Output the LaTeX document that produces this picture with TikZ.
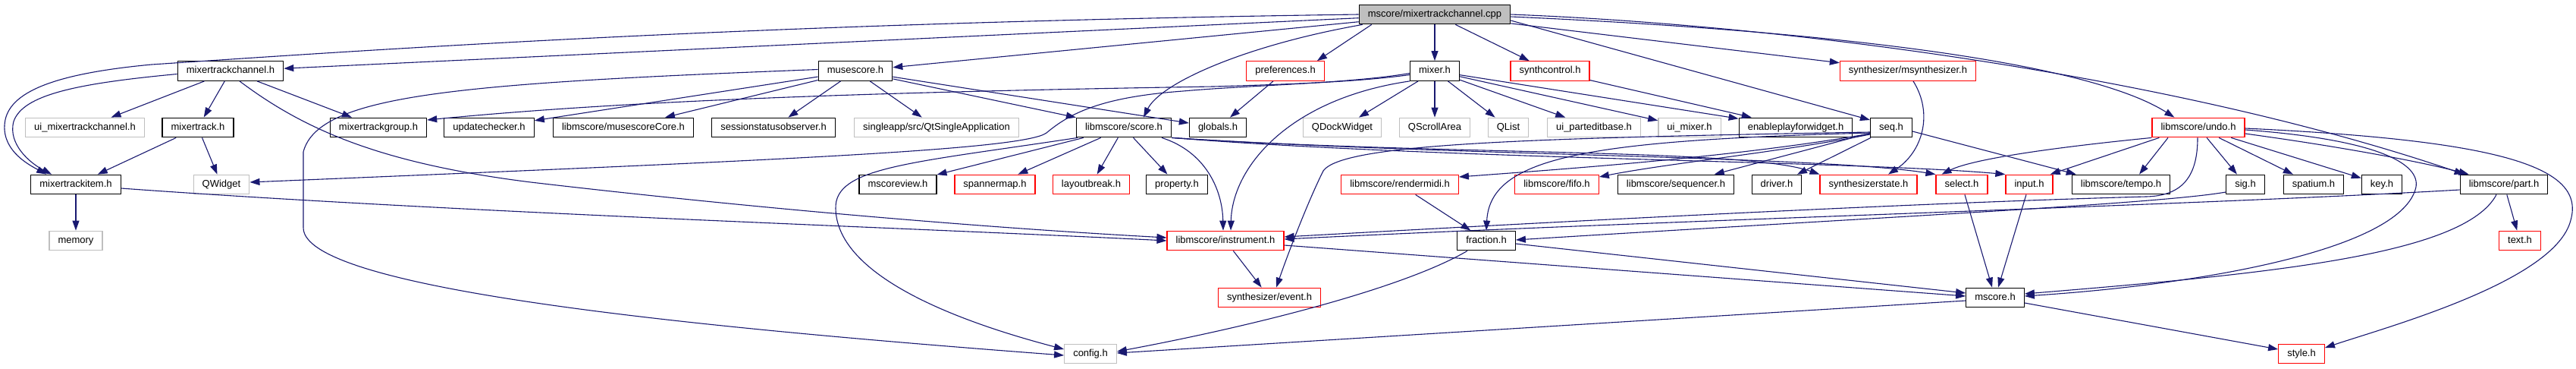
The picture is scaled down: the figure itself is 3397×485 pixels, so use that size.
\documentclass[tikz,border=0pt]{standalone}
\usepackage{fontspec}
\setmainfont{Liberation Sans}
\usetikzlibrary{arrows.meta}
\usetikzlibrary{calc,positioning}
\definecolor{edgeblue}{RGB}{25,25,112}
\definecolor{sysgrey}{RGB}{191,191,191}

\begin{document}
\begin{tikzpicture}[x=1pt,y=-1pt,
    hdr/.style={draw=black,line width=1.3pt,fill=white,minimum height=25.5pt,inner xsep=11.5pt,inner ysep=0pt,text height=9.4pt,text depth=2.7pt,font=\fontsize{13}{15}\selectfont},
    sys/.style={hdr,draw=sysgrey},
    cut/.style={hdr,draw=red},
    edge/.style={draw=edgeblue,line width=1.1pt,-{Triangle[length=13pt,width=9pt]}}]
        \useasboundingbox (0,0) rectangle (3397,485);

        \node[hdr,fill=sysgrey] (root) at (1892,19) {mscore/mixertrackchannel.cpp};

        \node[hdr] (mtchan) at (304,93.5) {mixertrackchannel.h};
        \node[hdr] (musescore) at (1128,93.5) {musescore.h};
        \node[cut] (prefs) at (1695,93.5) {preferences.h};
        \node[hdr] (mixer) at (1892,93.5) {mixer.h};
        \node[cut] (synthctl) at (2044,93.5) {synthcontrol.h};
        \node[cut] (msynth) at (2516,93.5) {synthesizer/msynthesizer.h};

        \node[sys] (uimtchan) at (112,168) {ui\_mixertrackchannel.h};
        \node[hdr] (mtrack) at (261,168) {mixertrack.h};
        \node[hdr] (mtgroup) at (499,168) {mixertrackgroup.h};
        \node[hdr] (updchk) at (645,168) {updatechecker.h};
        \node[hdr] (mscorecore) at (822,168) {libmscore/musescoreCore.h};
        \node[hdr] (sessobs) at (1020,168) {sessionstatusobserver.h};
        \node[sys] (qtsingle) at (1235,168) {singleapp/src/QtSingleApplication};
        \node[hdr] (score) at (1482,168) {libmscore/score.h};
        \node[hdr] (globals) at (1606,168) {globals.h};
        \node[sys] (qdock) at (1770,168) {QDockWidget};
        \node[sys] (qscroll) at (1892,168) {QScrollArea};
        \node[sys] (qlist) at (1989,168) {QList};
        \node[sys] (uiparted) at (2102,168) {ui\_parteditbase.h};
        \node[sys] (uimixer) at (2228,168) {ui\_mixer.h};
        \node[hdr] (enplay) at (2368,168) {enableplayforwidget.h};
        \node[hdr] (seq) at (2494,168) {seq.h};
        \node[cut] (undo) at (2899,168) {libmscore/undo.h};

        \node[hdr] (mtitem) at (100,243) {mixertrackitem.h};
        \node[sys] (qwidget) at (292,243) {QWidget};
        \node[hdr] (mview) at (1184,243) {mscoreview.h};
        \node[cut] (spanmap) at (1312,243) {spannermap.h};
        \node[cut] (lbreak) at (1439,243) {layoutbreak.h};
        \node[hdr] (prop) at (1552,243) {property.h};
        \node[cut] (rmidi) at (1846,243) {libmscore/rendermidi.h};
        \node[cut] (fifo) at (2053,243) {libmscore/fifo.h};
        \node[hdr] (sequencer) at (2210,243) {libmscore/sequencer.h};
        \node[hdr] (driver) at (2343,243) {driver.h};
        \node[cut] (synstate) at (2464,243) {synthesizerstate.h};
        \node[cut] (select) at (2587,243) {select.h};
        \node[cut] (input) at (2676,243) {input.h};
        \node[hdr] (tempo) at (2797,243) {libmscore/tempo.h};
        \node[hdr] (sig) at (2961,243) {sig.h};
        \node[hdr] (spatium) at (3051,243) {spatium.h};
        \node[hdr] (key) at (3141,243) {key.h};
        \node[hdr] (part) at (3302,243) {libmscore/part.h};

        \node[sys] (memory) at (100,317) {memory};
        \node[cut] (instr) at (1616,317) {libmscore/instrument.h};
        \node[hdr] (fraction) at (1960,317) {fraction.h};
        \node[cut] (text) at (3323,317) {text.h};

        \node[cut] (event) at (1674,392) {synthesizer/event.h};
        \node[hdr] (mscore) at (2631,392) {mscore.h};

        \node[sys] (config) at (1438,466) {config.h};
        \node[cut] (style) at (3035,466) {style.h};

        \draw[edge] (root) -- (mtchan);
        \draw[edge] (root) -- (musescore);
        \draw[edge] (root.west) .. controls (1000,30) and (500,65) .. (200,85) .. controls (60,98) and (8,125) .. (6,165) .. controls (4,200) and (40,218) .. ([xshift=21pt]mtitem.north west);
        \draw[edge] ([xshift=17pt]root.south west) -- ([xshift=-10pt]prefs.north east);
        \draw[edge] (root) -- (mixer);
        \draw[edge] (root) -- (synthctl);
        \draw[edge] (root) -- (msynth);
        \draw[edge] ([yshift=-8pt]root.east) -- ([yshift=10pt]seq.west);
        \draw[edge] ([yshift=-3pt]root.east) .. controls (2400,40) and (2750,80) .. ([xshift=30pt]undo.north west);
        \draw[edge] (root.east) .. controls (2400,35) and (2900,110) .. ([xshift=6pt]part.north west);
        \draw[edge] ([xshift=5pt]root.south west) .. controls (1640,60) and (1530,110) .. ([xshift=26pt]score.north);

        \draw[edge] (mtchan) -- (uimtchan);
        \draw[edge] (mtchan) -- (mtrack);
        \draw[edge] (mtchan) -- (mtgroup);
        \draw[edge] ([yshift=-4pt]mtchan.west) .. controls (100,110) and (30,125) .. (18,160) .. controls (10,190) and (40,215) .. ([xshift=28pt]mtitem.north west);
        \draw[edge] ([xshift=12pt]mtchan.south) .. controls (400,170) and (500,215) .. (700,240) .. controls (1000,275) and (1300,300) .. ([yshift=4pt]instr.west);

        \draw[edge] (musescore) -- (updchk);
        \draw[edge] (musescore) -- (mscorecore);
        \draw[edge] (musescore) -- (sessobs);
        \draw[edge] (musescore) -- (qtsingle);
        \draw[edge] (musescore) -- (score);
        \draw[edge] (musescore) -- (globals);
        \draw[edge] ([yshift=2pt]musescore.west) .. controls (600,110) and (420,125) .. (400,200) -- (400,300) .. controls (400,380) and (900,430) .. ([yshift=-2pt]config.west);

        \draw[edge] (prefs) -- (globals);

        \draw[edge] (mixer) -- (qdock);
        \draw[edge] (mixer) -- (qscroll);
        \draw[edge] (mixer) -- (qlist);
        \draw[edge] (mixer) -- (uiparted);
        \draw[edge] (mixer) -- (uimixer);
        \draw[edge] (mixer) -- (enplay);
        \draw[edge] ([yshift=-5pt]mixer.west) .. controls (1790,108) and (1700,111) .. (1600,114) .. controls (1100,122) and (800,135) .. ([yshift=10pt]mtgroup.east);
        \draw[edge] ([yshift=-3pt]mixer.west) .. controls (1780,110) and (1650,112) .. (1560,120) .. controls (1450,128) and (1410,150) .. (1380,175) .. controls (1350,198) and (1000,212) .. ([yshift=3pt]qwidget.east);
        \draw[edge] (mixer.south west) .. controls (1700,130) and (1625,220) .. ([xshift=7pt]instr.north);

        \draw[edge] (synthctl) -- (enplay);
        \draw[edge] ([xshift=7pt]msynth.south) .. controls (2550,150) and (2535,200) .. ([xshift=26pt]synstate.north);

        \draw[edge] (mtrack) -- (mtitem);
        \draw[edge] (mtrack) -- (qwidget);
        \draw[edge] (mtitem) -- (memory);
        \draw[edge] ([yshift=-5pt]mtitem.east) .. controls (600,280) and (1200,300) .. (instr.west);

        \draw[edge] (score) -- (mview);
        \draw[edge] (score) -- (spanmap);
        \draw[edge] (score) -- (lbreak);
        \draw[edge] (score) -- (prop);
        \draw[edge] ([xshift=50pt]score.south) .. controls (1590,200) and (1612,250) .. ([xshift=-3pt]instr.north);
        \draw[edge] ([xshift=2pt]score.south west) .. controls (1200,215) and (1100,220) .. (1102,275) .. controls (1104,360) and (1250,420) .. ([yshift=6pt]config.west);
        \draw[edge] (score.south east) .. controls (1900,205) and (2300,195) .. (synstate.north west);
        \draw[edge] (score.south east) .. controls (1900,205) and (2400,205) .. (select.north west);
        \draw[edge] (score.south east) .. controls (1900,210) and (2450,212) .. (input.north west);

        \draw[edge] ([yshift=-8pt]seq.west) .. controls (2300,205) and (2100,220) .. ([yshift=10pt]rmidi.east);
        \draw[edge] ([yshift=-9pt]seq.west) .. controls (2350,200) and (2200,215) .. ([yshift=10pt]fifo.east);
        \draw[edge] (seq) -- (sequencer);
        \draw[edge] (seq) -- (driver);
        \draw[edge] ([yshift=-7pt]seq.west) .. controls (2100,185) and (1965,205) .. (fraction.north);
        \draw[edge] ([yshift=-6pt]seq.west) .. controls (2000,182) and (1770,190) .. (1745,225) .. controls (1725,265) and (1700,330) .. ([xshift=9pt]event.north);
        \draw[edge] ([yshift=-5pt]seq.east) -- ([xshift=6pt]tempo.north west);

        \draw[edge] ([xshift=-40pt]undo.south) -- ([xshift=24pt]tempo.north);
        \draw[edge] (undo) -- (sig);
        \draw[edge] (undo) -- (spatium);
        \draw[edge] (undo) -- (key);
        \draw[edge] ([yshift=-8pt]undo.east) .. controls (3100,195) and (3200,215) .. ([xshift=12pt]part.north west);
        \draw[edge] ([yshift=-3pt]undo.east) .. controls (3150,185) and (3195,220) .. (3185,250) .. controls (3160,330) and (2900,375) .. ([yshift=2pt]mscore.east);
        \draw[edge] ([yshift=-1pt]undo.east) .. controls (3300,185) and (3410,220) .. (3390,290) .. controls (3370,370) and (3150,430) .. ([yshift=8pt]style.east);
        \draw[edge] ([xshift=-1pt]undo.south) .. controls (2898,230) and (2880,258) .. (2830,259) .. controls (2500,268) and (2000,295) .. ([yshift=5pt]instr.east);
        \draw[edge] (undo.south west) .. controls (2700,195) and (2600,210) .. ([xshift=8pt]select.north west);
        \draw[edge] ([xshift=10pt]undo.south west) -- ([xshift=-4pt]input.north east);

        \draw[edge] (rmidi) -- (fraction);
        \draw[edge] ([yshift=-10pt]sig.west) .. controls (2850,268) and (2500,285) .. ([yshift=1pt]fraction.east);
        \draw[edge] (part) -- (text);
        \draw[edge] ([xshift=-10pt]part.south) .. controls (3250,335) and (3000,360) .. ([yshift=5pt]mscore.east);
        \draw[edge] ([yshift=-7pt]part.west) .. controls (2900,270) and (2200,290) .. ([yshift=2pt]instr.east);

        \draw[edge] (instr) -- (event);
        \draw[edge] ([yshift=-6pt]instr.east) -- ([yshift=2pt]mscore.west);
        \draw[edge] ([yshift=-4pt]fraction.east) -- ([yshift=6pt]mscore.west);
        \draw[edge] ([xshift=-25pt]fraction.south) .. controls (1850,380) and (1650,430) .. ([yshift=3pt]config.east);
        \draw[edge] (select) -- (mscore);
        \draw[edge] (input) -- (mscore);
        \draw[edge] ([yshift=-4pt]mscore.west) -- ([yshift=1pt]config.east);
        \draw[edge] ([yshift=-7pt]mscore.east) -- ([yshift=6pt]style.west);
      \end{tikzpicture}
\end{document}
